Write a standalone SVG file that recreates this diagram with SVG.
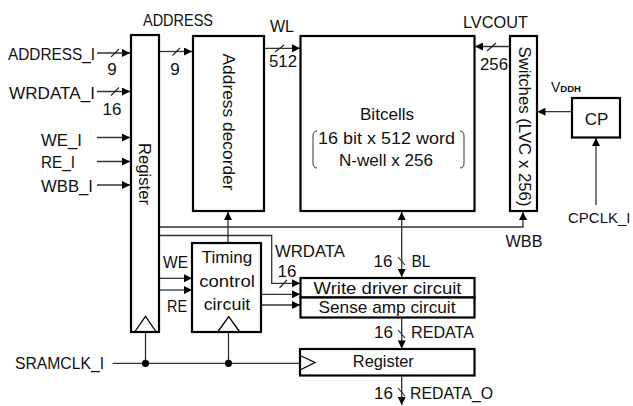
<svg xmlns="http://www.w3.org/2000/svg" width="633" height="406" viewBox="0 0 633 406">
<defs>
<style>
text{font-family:"Liberation Sans",Arial,sans-serif;font-size:17px;fill:#111;}
.m{text-anchor:middle;}
.box{fill:#fff;stroke:#000;stroke-width:2.2;}
.ln{fill:none;stroke:#333;stroke-width:1.3;}
.ar{fill:none;stroke:#333;stroke-width:1.3;marker-end:url(#ah);}
.sl{fill:none;stroke:#222;stroke-width:1.1;}
.clk{fill:none;stroke:#000;stroke-width:1.3;}
</style>
<marker id="ah" viewBox="0 0 10 10" refX="10" refY="5" markerWidth="9" markerHeight="8" markerUnits="userSpaceOnUse" orient="auto-start-reverse">
<path d="M0,0 L10,5 L0,10 z" fill="#000"/>
</marker>
</defs>
<rect width="633" height="406" fill="#fff"/>

<g id="connectors">
<line class="ar" x1="97" y1="53" x2="130" y2="53"/>
<line class="sl" x1="111" y1="57" x2="119" y2="49"/>
<line class="ar" x1="97" y1="91.5" x2="130" y2="91.5"/>
<line class="sl" x1="111" y1="95.5" x2="119" y2="87.5"/>
<line class="ar" x1="97" y1="137.5" x2="130" y2="137.5"/>
<line class="ar" x1="97" y1="161.5" x2="130" y2="161.5"/>
<line class="ar" x1="97" y1="185" x2="130" y2="185"/>
<line class="ar" x1="160" y1="51.5" x2="192" y2="51.5"/>
<line class="sl" x1="172.5" y1="55.5" x2="180" y2="48"/>
<line class="ar" x1="264" y1="48.3" x2="300" y2="48.3"/>
<line class="sl" x1="275" y1="52" x2="284" y2="45"/>
<line class="ar" x1="510" y1="46.5" x2="475" y2="46.5"/>
<line class="sl" x1="487" y1="51" x2="496" y2="43"/>
<line class="ar" x1="572" y1="111.7" x2="537.5" y2="111.7"/>
<line class="ar" x1="596" y1="205" x2="596" y2="138"/>
<polyline class="ar" points="160,227 523,227 523,212"/>
<polyline class="ar" points="160,235.5 271.7,235.5 271.7,283.3 300,283.3"/>
<line class="sl" x1="279.5" y1="288" x2="287" y2="280"/>
<line class="ar" x1="228" y1="243" x2="228" y2="212"/>
<line class="ar" x1="160" y1="278.3" x2="192" y2="278.3"/>
<line class="ar" x1="160" y1="290" x2="192" y2="290"/>
<line class="ar" x1="261" y1="294.3" x2="300" y2="294.3"/>
<line class="ar" x1="261" y1="305" x2="300" y2="305"/>
<line class="ar" x1="401.7" y1="244" x2="401.7" y2="212"/>
<line class="ar" x1="401.7" y1="244" x2="401.7" y2="277"/>
<line class="sl" x1="398" y1="257" x2="405" y2="265"/>
<line class="ar" x1="401.7" y1="318" x2="401.7" y2="348.5"/>
<line class="sl" x1="398" y1="330" x2="405" y2="338"/>
<line class="ar" x1="401.7" y1="376.5" x2="401.7" y2="405"/>
<line class="sl" x1="398" y1="388" x2="405" y2="396"/>
<line class="ln" x1="112.7" y1="363.3" x2="299.5" y2="363.3"/>
<line class="ln" x1="145.5" y1="332" x2="145.5" y2="363.3"/>
<line class="ln" x1="228.5" y1="332" x2="228.5" y2="363.3"/>
<circle cx="145.5" cy="363.3" r="3.6" fill="#000"/>
<circle cx="228.5" cy="363.3" r="3.6" fill="#000"/>
</g>

<g id="register">
<rect class="box" x="131" y="35" width="28" height="297"/>
<polyline class="clk" points="135,331.5 145.5,316.5 156,331.5"/>
<text class="m" transform="translate(138.5,174) rotate(90)" textLength="62" lengthAdjust="spacingAndGlyphs">Register</text>
</g>

<g id="address-decoder">
<rect class="box" x="193" y="36" width="71" height="175"/>
<text class="m" transform="translate(223,122) rotate(90)" textLength="137" lengthAdjust="spacingAndGlyphs">Address decorder</text>
</g>

<g id="bitcells">
<rect class="box" x="300.5" y="36" width="174" height="175"/>
<text class="m" x="387" y="120" textLength="54" lengthAdjust="spacingAndGlyphs">Bitcells</text>
<text class="m" x="386.5" y="143.5" textLength="137" lengthAdjust="spacingAndGlyphs">16 bit x 512 word</text>
<text class="m" x="386" y="166" textLength="94" lengthAdjust="spacingAndGlyphs">N-well x 256</text>
<path class="ln" style="stroke-width:1" d="M317,131 Q313,131 313,136 L313,163 Q313,168 317,168"/>
<path class="ln" style="stroke-width:1" d="M460,131 Q464,131 464,136 L464,163 Q464,168 460,168"/>
</g>

<g id="switches">
<rect class="box" x="510" y="36" width="27" height="175"/>
<text class="m" transform="translate(519,126.5) rotate(90)" textLength="160" lengthAdjust="spacingAndGlyphs">Switches (LVC x 256)</text>
</g>

<g id="cp">
<rect class="box" x="572" y="98" width="48" height="39.5"/>
<text class="m" x="596.5" y="124.5" style="font-size:17px">CP</text>
</g>

<g id="timing-control">
<rect class="box" x="192" y="243" width="69" height="89"/>
<polyline class="clk" points="218,331.5 228.7,316.5 239.5,331.5"/>
<text class="m" x="227" y="263.3" textLength="50.6" lengthAdjust="spacingAndGlyphs">Timing</text>
<text class="m" x="227" y="286.7" textLength="55.7" lengthAdjust="spacingAndGlyphs">control</text>
<text class="m" x="227" y="310" textLength="46.7" lengthAdjust="spacingAndGlyphs">circuit</text>
</g>

<g id="write-driver">
<rect class="box" x="300.5" y="278" width="174" height="19.5"/>
<text class="m" x="387.5" y="294" textLength="148" lengthAdjust="spacingAndGlyphs">Write driver circuit</text>
</g>

<g id="sense-amp">
<rect class="box" x="300.5" y="297.5" width="174" height="20"/>
<text class="m" x="387" y="312.5" textLength="137" lengthAdjust="spacingAndGlyphs">Sense amp circuit</text>
</g>

<g id="output-register">
<rect class="box" x="300" y="349" width="174.5" height="26.5"/>
<polyline class="clk" points="300,355.5 315,362.5 300,370"/>
<text class="m" x="383.3" y="367" textLength="61" lengthAdjust="spacingAndGlyphs">Register</text>
</g>

<g id="labels">
<text class="m" x="178" y="26" textLength="70" lengthAdjust="spacingAndGlyphs">ADDRESS</text>
<text x="8" y="59.5" textLength="87" lengthAdjust="spacingAndGlyphs">ADDRESS_I</text>
<text class="m" x="112" y="75">9</text>
<text x="9" y="99" textLength="86" lengthAdjust="spacingAndGlyphs">WRDATA_I</text>
<text class="m" x="112" y="115">16</text>
<text x="41" y="145.5" textLength="41" lengthAdjust="spacingAndGlyphs">WE_I</text>
<text x="41" y="167.5" textLength="34" lengthAdjust="spacingAndGlyphs">RE_I</text>
<text x="41" y="191.5" textLength="52" lengthAdjust="spacingAndGlyphs">WBB_I</text>
<text class="m" x="175" y="75">9</text>
<text class="m" x="282" y="31.5" textLength="24" lengthAdjust="spacingAndGlyphs">WL</text>
<text class="m" x="283" y="67" textLength="28" lengthAdjust="spacingAndGlyphs">512</text>
<text class="m" x="495.5" y="28" textLength="65" lengthAdjust="spacingAndGlyphs">LVCOUT</text>
<text class="m" x="494" y="69.5" textLength="28" lengthAdjust="spacingAndGlyphs">256</text>
<text x="551" y="91.7" style="font-size:14px">V<tspan style="font-size:9.5px;font-weight:bold">DDH</tspan></text>
<text x="568" y="223" style="font-size:15px">CPCLK_I</text>
<text class="m" x="524" y="246.5" textLength="37" lengthAdjust="spacingAndGlyphs">WBB</text>
<text x="275" y="257" textLength="70" lengthAdjust="spacingAndGlyphs">WRDATA</text>
<text class="m" x="287" y="277">16</text>
<text class="m" x="175.5" y="268" textLength="25" lengthAdjust="spacingAndGlyphs">WE</text>
<text class="m" x="177" y="311.7" textLength="20" lengthAdjust="spacingAndGlyphs">RE</text>
<text class="m" x="383" y="266.7">16</text>
<text x="411.5" y="266.7" textLength="19" lengthAdjust="spacingAndGlyphs">BL</text>
<text class="m" x="383.5" y="338.3">16</text>
<text x="411" y="338.3" textLength="63" lengthAdjust="spacingAndGlyphs">REDATA</text>
<text class="m" x="383.5" y="399">16</text>
<text x="410" y="399" textLength="83" lengthAdjust="spacingAndGlyphs">REDATA_O</text>
<text x="15" y="369" textLength="89" lengthAdjust="spacingAndGlyphs">SRAMCLK_I</text>
</g>
</svg>
